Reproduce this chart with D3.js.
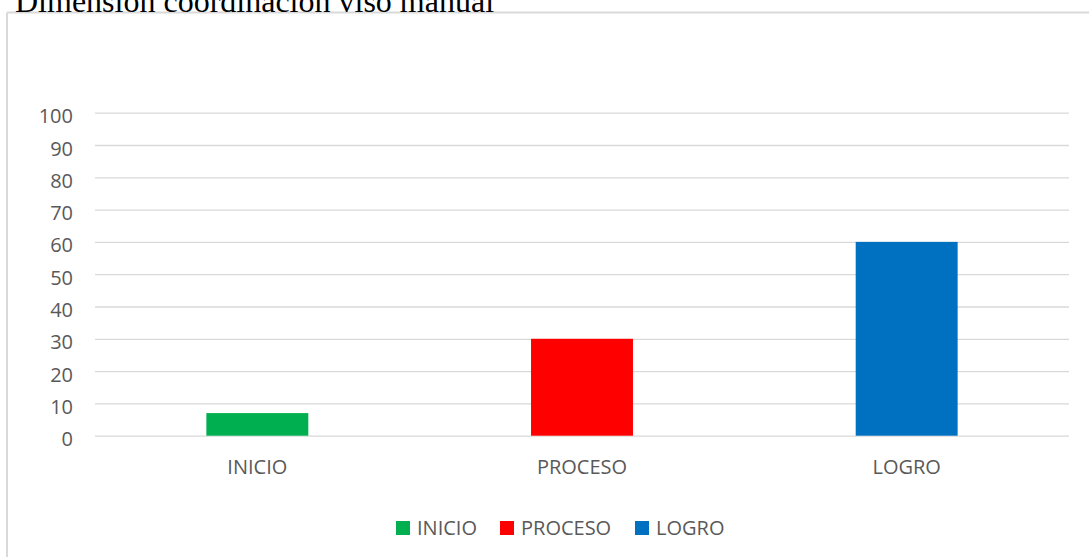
<!DOCTYPE html>
<html>
<head>
<meta charset="utf-8">
<script src="https://cdn.jsdelivr.net/npm/d3@7"></script>
<style>
  body { margin: 0; background: #fff; }
  svg { display: block; }
  .tick text { fill: #595959; font-family: "Open Sans", sans-serif; font-size: 20px; }
</style>
</head>
<body>
<svg width="1089" height="557"></svg>
<script>
var categories = ["INICIO", "PROCESO", "LOGRO"];
var values = [7, 30, 60];
var colors = ["#00b050", "#ff0000", "#0070c0"];
var yTicks = [0, 10, 20, 30, 40, 50, 60, 70, 80, 90, 100];
var title = "Dimensión coordinación viso manual";

var svg = d3.select("svg");
var margin = {top: 112.7, right: 20, bottom: 121.3, left: 95};
var width = 1069 - margin.left;
var height = 435.7 - margin.top;

// chart frame (only top and left edges show in the picture)
svg.append("line")
    .attr("x1", 7).attr("x2", 1089).attr("y1", 12.5).attr("y2", 12.5)
    .attr("stroke", "#d9d9d9").attr("stroke-width", 2);
svg.append("line")
    .attr("x1", 7).attr("x2", 7).attr("y1", 12.5).attr("y2", 557)
    .attr("stroke", "#d9d9d9").attr("stroke-width", 2);

svg.append("text")
    .attr("x", 15)
    .attr("y", 12)
    .style("font-family", "'Liberation Serif', 'Times New Roman', serif")
    .style("font-size", "32px")
    .attr("fill", "#000")
    .text(title);

var g = svg.append("g").attr("transform", "translate(" + margin.left + "," + margin.top + ")");

var x = d3.scaleBand().domain(categories).range([0, width]).padding(0);
var y = d3.scaleLinear().domain([0, 100]).range([height, 0]);

// gridlines + y labels
var yAxis = d3.axisLeft(y).tickValues(yTicks).tickSize(-width).tickPadding(22);
g.append("g")
    .attr("class", "axis axis--y")
    .call(yAxis)
    .call(function(s) {
        s.select(".domain").remove();
        s.selectAll(".tick line").attr("stroke", "#d9d9d9").attr("stroke-width", 1.3);
        s.selectAll(".tick text").attr("dy", "0.5em");
    });

var xAxis = d3.axisBottom(x).tickSize(0).tickPadding(26);
g.append("g")
    .attr("class", "axis axis--x")
    .attr("transform", "translate(0," + height + ")")
    .call(xAxis)
    .call(function(s) {
        s.select(".domain").remove();
        s.selectAll(".tick text").attr("dy", "0.6em");
    });

var barW = x.bandwidth() * 0.314;
g.selectAll(".bar")
    .data(values)
    .enter()
    .append("rect")
    .attr("class", "bar")
    .attr("x", function(d, i) { return x(categories[i]) + (x.bandwidth() - barW) / 2; })
    .attr("width", barW)
    .attr("y", function(d) { return y(d); })
    .attr("height", function(d) { return height - y(d); })
    .attr("fill", function(d, i) { return colors[i]; });

// legend
var legendX = [396, 500, 635];
var legend = svg.append("g").selectAll("g")
    .data(categories)
    .enter()
    .append("g")
    .attr("transform", function(d, i) { return "translate(" + legendX[i] + ",521)"; });

legend.append("rect")
    .attr("width", 14).attr("height", 14)
    .attr("fill", function(d, i) { return colors[i]; });

legend.append("text")
    .attr("x", 21)
    .attr("y", 13.5)
    .style("font-family", "'Open Sans', sans-serif")
    .style("font-size", "20px")
    .attr("fill", "#595959")
    .text(function(d) { return d; });
</script>
</body>
</html>
